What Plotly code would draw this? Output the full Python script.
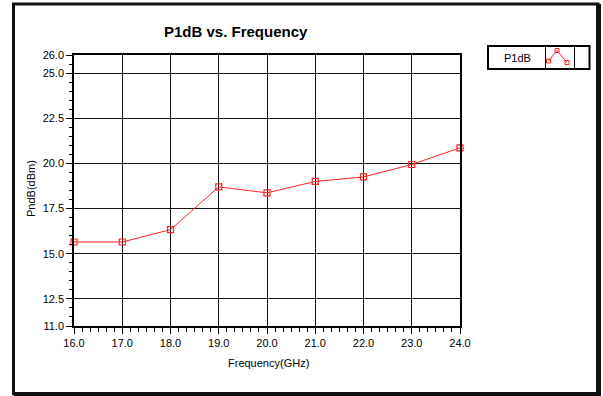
import plotly.graph_objects as go
import numpy as np

freq = [16.0, 17.0, 18.0, 19.0, 20.0, 21.0, 22.0, 23.0, 24.0]
p1db = [15.65, 15.65, 16.33, 18.7, 18.37, 19.0, 19.25, 19.94, 20.86]
y_ticks = [11.0, 12.5, 15.0, 17.5, 20.0, 22.5, 25.0, 26.0]
x_ticks = [16.0, 17.0, 18.0, 19.0, 20.0, 21.0, 22.0, 23.0, 24.0]
series_name = "P1dB"

W, H = 603, 396
L, R, T, B = 74, 460, 55, 326

def px(x):
    return (x - L) / (R - L)

def py(y):
    return (B - y) / (B - T)

FONT = "Liberation Sans, Arial, sans-serif"

fig = go.Figure()
fig.add_trace(go.Scatter(
    x=freq, y=p1db, mode="lines+markers",
    line=dict(color="#ff2020", width=1),
    marker=dict(symbol="square-open", size=6, color="#ff2020", line=dict(width=1.2)),
    showlegend=False, cliponaxis=False,
))

shapes = []
# outer frame
shapes.append(dict(type="rect", xref="paper", yref="paper",
                   x0=px(13.5), x1=px(598), y0=py(4), y1=py(393.5),
                   line=dict(color="#111", width=3)))
shapes.append(dict(type="rect", xref="paper", yref="paper",
                   x0=px(596), x1=px(601), y0=py(4), y1=py(396),
                   fillcolor="#111", line=dict(width=0)))
shapes.append(dict(type="rect", xref="paper", yref="paper",
                   x0=px(13.5), x1=px(601), y0=py(392), y1=py(396),
                   fillcolor="#111", line=dict(width=0)))
# legend box
shapes.append(dict(type="rect", xref="paper", yref="paper",
                   x0=px(488), x1=px(589.5), y0=py(46), y1=py(69),
                   line=dict(color="#000", width=2), fillcolor="white"))
shapes.append(dict(type="line", xref="paper", yref="paper",
                   x0=px(545.5), x1=px(545.5), y0=py(46), y1=py(69),
                   line=dict(color="#000", width=1)))
shapes.append(dict(type="line", xref="paper", yref="paper",
                   x0=px(574.5), x1=px(574.5), y0=py(46), y1=py(69),
                   line=dict(color="#000", width=1)))
# legend icon: zigzag with squares
pts = [(548.5, 61), (557, 50.5), (567, 62.5)]
d = "M " + " L ".join(f"{px(a)},{py(b)}" for a, b in pts)
shapes.append(dict(type="path", xref="paper", yref="paper", path=d,
                   line=dict(color="#ff2020", width=1)))
for a, b in pts:
    shapes.append(dict(type="rect", xref="paper", yref="paper",
                       x0=px(a - 2), x1=px(a + 2), y0=py(b - 2), y1=py(b + 2),
                       line=dict(color="#ff2020", width=1)))

def ann(text, x, y, size=11, angle=0):
    return dict(text=text, xref="paper", yref="paper", x=px(x), y=py(y),
                xanchor="center", yanchor="middle", showarrow=False,
                textangle=angle, font=dict(family=FONT, size=size, color="#000"))

annotations = [
    ann("<b>P1dB vs. Frequency</b>", 236, 31, size=15),
    ann("Frequency(GHz)", 268, 363),
    ann("PndB(dBm)", 31, 189, angle=-90),
    ann(series_name, 517, 57.5),
]

fig.update_layout(
    width=W, height=H,
    margin=dict(l=L, r=W - R, t=T, b=H - B),
    paper_bgcolor="white", plot_bgcolor="white",
    shapes=shapes, annotations=annotations,
    font=dict(family=FONT, size=11, color="#000"),
)
fig.update_xaxes(
    range=[16, 24], tickvals=x_ticks, ticktext=[f"{v:.1f}" for v in x_ticks],
    showgrid=True, gridcolor="#111", gridwidth=1.4,
    showline=True, linecolor="#000", linewidth=1.5, mirror=True,
    ticks="outside", ticklen=6, tickcolor="#000", zeroline=False,
    minor=dict(tickvals=list(np.arange(16, 24.001, 1 / 6)), ticks="outside",
               ticklen=4, tickcolor="#000", showgrid=False),
    tickfont=dict(family=FONT, size=11),
)
fig.update_yaxes(
    range=[11, 26], tickvals=y_ticks, ticktext=[f"{v:.1f}" for v in y_ticks],
    showgrid=True, gridcolor="#111", gridwidth=1.4,
    showline=True, linecolor="#000", linewidth=1.5, mirror=True,
    ticks="outside", ticklen=6, tickcolor="#000", zeroline=False,
    minor=dict(tickvals=list(np.arange(11, 26.001, 0.5)), ticks="outside",
               ticklen=3, tickcolor="#000", showgrid=False),
    tickfont=dict(family=FONT, size=11),
)

fig.write_html("out.html", config={"displayModeBar": False},
               post_script="document.body.style.margin='0';")
